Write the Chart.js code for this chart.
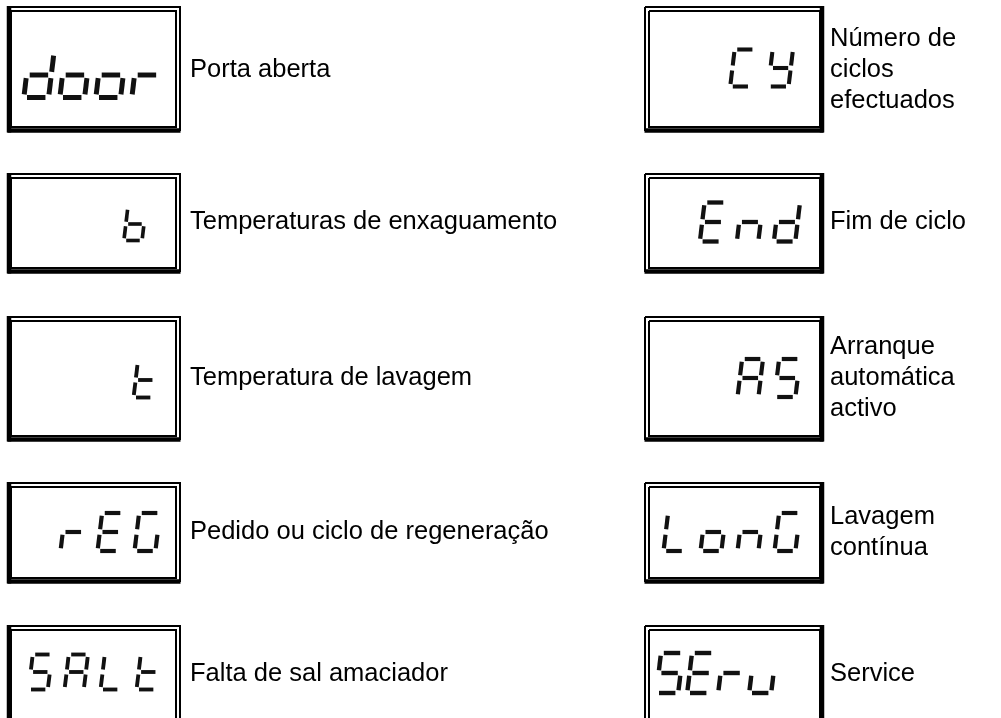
<!DOCTYPE html>
<html lang="pt">
<head>
    <meta charset="UTF-8">
    <title>Mensagens do display</title>
    <style>
        body {
            margin: 0;
            padding: 0;
            background-color: #fff;
        }

        #wrap {
            width: 1001px;
            height: 718px;
        }
    </style>
</head>
<body>
    <div id="wrap"><canvas id="displayChart" width="1001" height="718"></canvas></div>

    <script src="https://cdn.jsdelivr.net/npm/chart.js"></script>
    <script>
        // codes shown on the display and what they mean
        const codes = ['door', 'b', 't', 'rEG', 'SALt', 'Cy', 'End', 'AS', 'LonG', 'SEru'];
        const descriptions = [
            ['Porta aberta'],
            ['Temperaturas de enxaguamento'],
            ['Temperatura de lavagem'],
            ['Pedido ou ciclo de regeneração'],
            ['Falta de sal amaciador'],
            ['Número de', 'ciclos', 'efectuados'],
            ['Fim de ciclo'],
            ['Arranque', 'automática', 'activo'],
            ['Lavagem', 'contínua'],
            ['Service']
        ];

        // lit segments for each character (a top, b top right, c bottom right,
        // d bottom, e bottom left, f top left, g middle)
        const segmentsOn = {
            d: 'bcdeg', o: 'cdeg', r: 'eg', b: 'cdefg', t: 'defg',
            E: 'adefg', G: 'acdef', S: 'acdfg', A: 'abcefg', L: 'def',
            C: 'adef', y: 'bcdfg', n: 'ceg', u: 'cde'
        };

        // layout: frame of each box, where the glyphs sit, where the text starts
        const rows = [
            { top: 7, bottom: 130 },
            { top: 174, bottom: 271 },
            { top: 317, bottom: 439 },
            { top: 483, bottom: 581 },
            { top: 626, bottom: 735 }
        ];
        const columns = [
            { left: 8, right: 180, textX: 190, inset: { t: 4, r: 4, b: 3, l: 3 }, heavy: 'lb' },
            { left: 645, right: 823, textX: 830, inset: { t: 4, r: 3, b: 3, l: 4 }, heavy: 'rb' }
        ];
        const glyphLayout = [
            { h: 45, pitch: 36, right: 162, cy: 75 },
            { h: 33, pitch: 37, right: 146, cy: 224 },
            { h: 35, pitch: 37, right: 157, cy: 380 },
            { h: 38, pitch: 37, right: 160, cy: 532 },
            { h: 35, pitch: 36, right: 160, cy: 672 },
            { h: 37, pitch: 38, right: 793, cy: 68 },
            { h: 39, pitch: 37, right: 800, cy: 222 },
            { h: 38, pitch: 37, right: 800, cy: 378 },
            { h: 38, pitch: 37, right: 800, cy: 532 },
            { h: 40, pitch: 31, right: 776, cy: 673 }
        ];
        const rowCenters = [70, 222, 378, 532, 674];
        const lineGap = 31;

        const ends = {
            a: [[0, 0], [1, 0]], b: [[1, 0], [1, 0.5]], c: [[1, 0.5], [1, 1]],
            d: [[0, 1], [1, 1]], e: [[0, 0.5], [0, 1]], f: [[0, 0], [0, 0.5]],
            g: [[0, 0.5], [1, 0.5]]
        };

        const datasets = [];

        function lineSet(points, width, color) {
            datasets.push({
                data: points,
                showLine: true,
                pointRadius: 0,
                borderColor: color || '#000',
                borderWidth: width,
                borderCapStyle: 'butt',
                borderJoinStyle: 'miter',
                fill: false,
                tension: 0
            });
        }

        function rect(x0, y0, x1, y1, width) {
            lineSet([{ x: x0, y: y0 }, { x: x1, y: y0 }, { x: x1, y: y1 }, { x: x0, y: y1 }, { x: x0, y: y0 }], width);
        }

        codes.forEach((code, i) => {
            const col = columns[i < 5 ? 0 : 1];
            const row = rows[i % 5];
            // double frame, two sides drawn heavy like a shadow
            rect(col.left, row.top, col.right, row.bottom, 2);
            rect(col.left + col.inset.l, row.top + col.inset.t, col.right - col.inset.r, row.bottom - col.inset.b, 2);
            const L = col.left - 0.5, R = col.right + 0.5, B = row.bottom + 0.5;
            lineSet([{ x: L, y: B }, { x: R, y: B }], 4.5);
            if (col.heavy === 'lb') {
                lineSet([{ x: L + 1.5, y: row.top - 1 }, { x: L + 1.5, y: B + 2 }], 4.5);
            } else {
                lineSet([{ x: R - 1.5, y: row.top - 1 }, { x: R - 1.5, y: B + 2 }], 4.5);
            }

            // seven segment glyphs, right aligned
            const g = glyphLayout[i];
            const w = g.h * 0.55;
            const slant = g.h * 0.12;
            const gap = g.h * 0.07;
            const stroke = g.h * 0.11;
            const n = code.length;
            code.split('').forEach((ch, k) => {
                const x0 = g.right - (n - 1 - k) * g.pitch - w - slant;
                const y0 = g.cy - g.h / 2;
                segmentsOn[ch].split('').forEach(s => {
                    const p = ends[s].map(([u, v]) => ({
                        x: x0 + u * w + slant * (1 - v),
                        y: y0 + v * g.h
                    }));
                    const dx = p[1].x - p[0].x, dy = p[1].y - p[0].y;
                    const len = Math.hypot(dx, dy);
                    const ox = dx / len * gap, oy = dy / len * gap;
                    lineSet([{ x: p[0].x + ox, y: p[0].y + oy }, { x: p[1].x - ox, y: p[1].y - oy }], stroke, '#111');
                });
            });
        });

        const labelPlugin = {
            id: 'labels',
            afterDraw(chart) {
                const { ctx, scales } = chart;
                ctx.save();
                ctx.fillStyle = '#000';
                ctx.font = '25.5px "Liberation Sans", Arial, sans-serif';
                ctx.textBaseline = 'middle';
                descriptions.forEach((lines, i) => {
                    const col = columns[i < 5 ? 0 : 1];
                    const cy = rowCenters[i % 5];
                    lines.forEach((txt, j) => {
                        const y = cy + (j - (lines.length - 1) / 2) * lineGap;
                        ctx.fillText(txt, scales.x.getPixelForValue(col.textX), scales.y.getPixelForValue(y));
                    });
                });
                ctx.restore();
            }
        };

        const ctx = document.getElementById('displayChart').getContext('2d');
        new Chart(ctx, {
            type: 'scatter',
            data: { datasets: datasets },
            options: {
                responsive: false,
                animation: false,
                events: [],
                layout: { padding: 0 },
                plugins: {
                    legend: { display: false },
                    tooltip: { enabled: false }
                },
                scales: {
                    x: { type: 'linear', min: 0, max: 1001, display: false },
                    y: { type: 'linear', min: 0, max: 718, reverse: true, display: false }
                }
            },
            plugins: [labelPlugin]
        });
    </script>
</body>
</html>
